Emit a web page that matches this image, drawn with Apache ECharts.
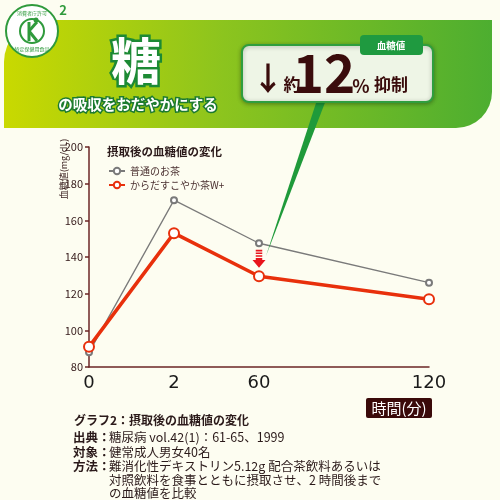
<!DOCTYPE html>
<html><head><meta charset="utf-8">
<script src="https://cdn.jsdelivr.net/npm/echarts@6/dist/echarts.min.js"></script>
<style>html,body{margin:0;padding:0;background:#fdfdf1;}#c{width:500px;height:500px;}</style>
</head><body><div id="c"></div>
<script>
var categories = ['0', '2', '60', '', '120'];
var normalTea = [88, 171, 147.5, null, 126];
var karadaTea = [91, 153, 129.5, null, 117];
var seriesNames = ['普通のお茶', 'からだすこやか茶W+'];
var yTicks = {min: 80, max: 200, interval: 20};
var arrowMark = {x: '60', y: 139};

var FONT = '"Noto Sans CJK JP", "Noto Sans", sans-serif';
var dark = '#3a0c0c';
var chart = echarts.init(document.getElementById('c'));

var graphics = [
  // banner
  {type: 'rect', shape: {x: 4, y: 20, width: 488, height: 108, r: [42, 0, 36, 0]},
   style: {fill: new echarts.graphic.LinearGradient(0, 0, 1, 0, [
     {offset: 0, color: '#c9d900'}, {offset: 0.45, color: '#8cc41e'}, {offset: 1, color: '#4dae30'}])}, z: 0},
  // logo
  {type: 'circle', shape: {cx: 32, cy: 31, r: 26}, style: {fill: '#ffffff', stroke: '#2f9a3c', lineWidth: 2}, z: 5},
  {type: 'circle', shape: {cx: 32, cy: 31, r: 12}, style: {fill: 'none', stroke: '#2f9a3c', lineWidth: 2}, z: 6},
  {type: 'line', shape: {x1: 29, y1: 22, x2: 29, y2: 41}, style: {stroke: '#2f9a3c', lineWidth: 3}, z: 6},
  {type: 'line', shape: {x1: 29, y1: 31, x2: 37, y2: 22}, style: {stroke: '#2f9a3c', lineWidth: 3}, z: 6},
  {type: 'line', shape: {x1: 29, y1: 31, x2: 37, y2: 41}, style: {stroke: '#2f9a3c', lineWidth: 3}, z: 6},
  {type: 'circle', shape: {cx: 36, cy: 20, r: 2.5}, style: {fill: '#2f9a3c'}, z: 6},
  {type: 'text', style: {x: 32, y: 13, text: '消費者庁許可', fontSize: 5, fill: '#2f9a3c', align: 'center', verticalAlign: 'middle', fontFamily: FONT}, z: 6},
  {type: 'text', style: {x: 32, y: 49, text: '特定保健用食品', fontSize: 5, fill: '#2f9a3c', align: 'center', verticalAlign: 'middle', fontFamily: FONT}, z: 6},
  {type: 'text', style: {x: 63, y: 10, text: '2', fontSize: 13, fontWeight: 'bold', fill: '#2f9a3c', align: 'center', verticalAlign: 'middle', fontFamily: FONT}, z: 6},
  // big kanji
  {type: 'text', style: {x: 136, y: 61, text: '糖', fontSize: 50, fontWeight: 'bold', fill: '#ffffff', stroke: '#1c8a34', lineWidth: 5, align: 'center', verticalAlign: 'middle', fontFamily: FONT}, z: 6},
  {type: 'text', style: {x: 138, y: 104, text: 'の吸収をおだやかにする', fontSize: 14.5, fontWeight: 'bold', fill: '#ffffff', stroke: '#1c7a30', lineWidth: 3, align: 'center', verticalAlign: 'middle', fontFamily: FONT}, z: 6},
  // pointer
  {type: 'polygon', shape: {points: [[317, 100], [326, 100], [266, 256]]}, style: {fill: '#1f9a3a'}, z: 7},
  // callout
  {type: 'rect', shape: {x: 242, y: 45, width: 191, height: 57, r: 7}, style: {fill: '#eef5e6', stroke: '#2f9e3e', lineWidth: 2, shadowBlur: 4, shadowColor: 'rgba(0,0,0,0.3)', shadowOffsetY: 1}, z: 8},
  {type: 'rect', shape: {x: 360, y: 35, width: 63, height: 20, r: 4}, style: {fill: '#1f9a40'}, z: 9},
  {type: 'text', style: {x: 391, y: 45, text: '血糖値', fontSize: 9.5, fontWeight: 'bold', fill: '#ffffff', align: 'center', verticalAlign: 'middle', fontFamily: FONT}, z: 10},
  {type: 'text', style: {x: 268, y: 78, text: '↓', fontSize: 32, fontWeight: 'bold', fill: dark, align: 'center', verticalAlign: 'middle', fontFamily: FONT}, z: 10},
  {type: 'text', style: {x: 292, y: 85, text: '約', fontSize: 17, fontWeight: 'bold', fill: dark, align: 'center', verticalAlign: 'middle', fontFamily: FONT}, z: 10},
  {type: 'text', style: {x: 324, y: 73, text: '12', fontSize: 53, fontWeight: 'bold', fill: dark, align: 'center', verticalAlign: 'middle', fontFamily: FONT}, z: 10},
  {type: 'text', style: {x: 361, y: 86, text: '%', fontSize: 18, fontWeight: 'bold', fill: dark, align: 'center', verticalAlign: 'middle', fontFamily: FONT}, z: 10},
  {type: 'text', style: {x: 391, y: 85, text: '抑制', fontSize: 17, fontWeight: 'bold', fill: dark, align: 'center', verticalAlign: 'middle', fontFamily: FONT}, z: 10},
  // y axis name
  {type: 'text', x: 64, y: 169, rotation: Math.PI / 2, style: {x: 0, y: 0, text: '血糖値(mg/dL)', fontSize: 9, fill: '#3a2020', align: 'center', verticalAlign: 'middle', fontFamily: FONT}, z: 10},
  // chart title inside
  {type: 'text', style: {x: 107, y: 152, text: '摂取後の血糖値の変化', fontSize: 11.5, fontWeight: 'bold', fill: '#2b1a1a', align: 'left', verticalAlign: 'middle', fontFamily: FONT}, z: 10},
  // x axis name
  {type: 'rect', shape: {x: 366, y: 398, width: 66, height: 20, r: 2}, style: {fill: '#3a0a0a'}, z: 10},
  {type: 'text', style: {x: 399, y: 408, text: '時間(分)', fontSize: 15, fill: '#ffffff', align: 'center', verticalAlign: 'middle', fontFamily: FONT}, z: 11},
  // notes
  {type: 'text', style: {x: 74, y: 420, text: 'グラフ2：摂取後の血糖値の変化', fontSize: 12, fontWeight: 'bold', fill: '#2b1a1a', align: 'left', verticalAlign: 'middle', fontFamily: FONT}, z: 10}
];
var notes = [
  ['出典：', '糖尿病 vol.42(1)：61-65、1999', 437],
  ['対象：', '健常成人男女40名', 452],
  ['方法：', '難消化性デキストリン5.12g 配合茶飲料あるいは', 466],
  ['', '対照飲料を食事とともに摂取させ、2 時間後まで', 480],
  ['', 'の血糖値を比較', 493]
];
notes.forEach(function (n) {
  if (n[0]) graphics.push({type: 'text', style: {x: 73, y: n[2], text: n[0], fontSize: 12.5, fontWeight: 'bold', fill: '#2b1a1a', align: 'left', verticalAlign: 'middle', fontFamily: FONT}, z: 10});
  graphics.push({type: 'text', style: {x: 109, y: n[2], text: n[1], fontSize: 12.5, fill: '#2b1a1a', align: 'left', verticalAlign: 'middle', fontFamily: FONT}, z: 10});
});

var arrowPath = 'path://M3,0H9V1.4H3Z M3,2.4H9V3.8H3Z M3,4.8H9V6.2H3Z M3,7.2H9V9H12L6,16L0,9H3Z';

chart.setOption({
  backgroundColor: '#fdfdf1',
  animation: false,
  textStyle: {fontFamily: FONT},
  grid: {left: 89, right: 71, top: 147, bottom: 133},
  legend: {
    left: 103, top: 161, orient: 'vertical', itemWidth: 16, itemHeight: 8, itemGap: 4,
    textStyle: {fontSize: 10, color: '#4a3030', fontFamily: FONT},
    data: seriesNames
  },
  xAxis: {
    type: 'category', data: categories, boundaryGap: false,
    axisLine: {lineStyle: {color: '#6b2626', width: 1.5}},
    axisTick: {show: false},
    axisLabel: {fontSize: 18, color: '#1a1a1a', margin: 7, fontFamily: '"DejaVu Sans", sans-serif'},
    splitLine: {show: false}
  },
  yAxis: {
    type: 'value', min: yTicks.min, max: yTicks.max, interval: yTicks.interval,
    axisLine: {show: true, lineStyle: {color: '#6b2626', width: 1.5}},
    axisTick: {show: true, length: 4, lineStyle: {color: '#6b2626', width: 1.5}},
    axisLabel: {fontSize: 11, color: '#3a2020', margin: 6},
    splitLine: {show: false}
  },
  series: [
    {name: seriesNames[0], type: 'line', data: normalTea, connectNulls: true,
     symbol: 'emptyCircle', symbolSize: 6, itemStyle: {color: '#7a7a7a', borderWidth: 1.2},
     lineStyle: {color: '#7a7a7a', width: 1.3}, z: 3},
    {name: seriesNames[1], type: 'line', data: karadaTea, connectNulls: true,
     symbol: 'emptyCircle', symbolSize: 10, itemStyle: {color: '#e8300c', borderWidth: 3},
     lineStyle: {color: '#e8300c', width: 3.5}, z: 4,
     markPoint: {symbol: arrowPath, symbolSize: [13, 18], silent: true,
       itemStyle: {color: '#e8141c'}, label: {show: false},
       data: [{coord: [arrowMark.x, arrowMark.y]}]}}
  ],
  graphic: graphics
});
</script></body></html>
